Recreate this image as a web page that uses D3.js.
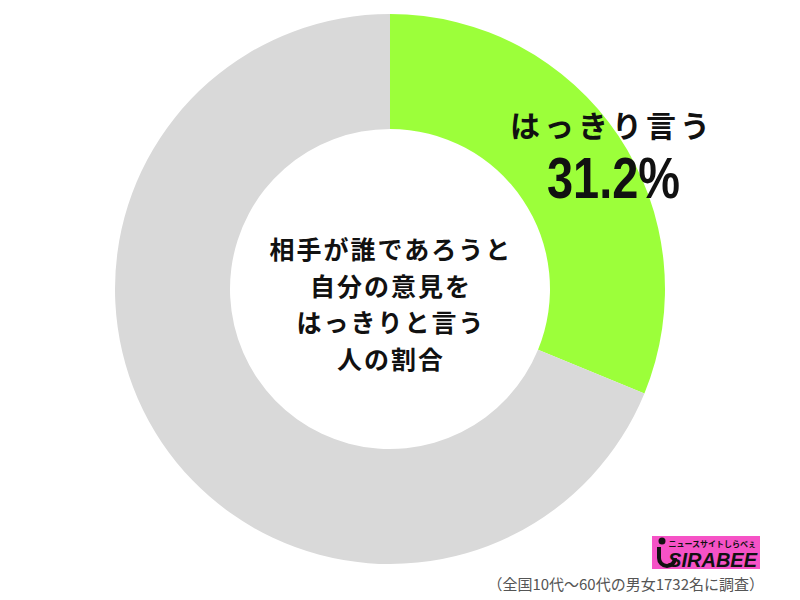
<!DOCTYPE html>
<html>
<head>
<meta charset="utf-8">
<script src="https://cdn.jsdelivr.net/npm/d3@7"></script>
<style>
  html, body { margin: 0; padding: 0; background: #fff; }
  svg { display: block; }
</style>
</head>
<body>
<svg id="chart" width="800" height="600"></svg>
<script>
const categories = ["はっきり言う", "その他"];
const values = [31.2, 68.8];
const colors = ["#9cff3a", "#d9d9d9"];
const centerLines = ["相手が誰であろうと", "自分の意見を", "はっきりと言う", "人の割合"];
const footnote = "（全国10代～60代の男女1732名に調査）";

const svg = d3.select("#chart");
const cx = 390, cy = 289, R = 275, r = 160;

const pie = d3.pie().sort(null).value(d => d)(values);
const arc = d3.arc().innerRadius(r).outerRadius(R);

const g = svg.append("g").attr("transform", `translate(${cx},${cy})`);
g.selectAll("path").data(pie).join("path")
  .attr("d", arc)
  .attr("fill", (d, i) => colors[i]);

const jp = "'Noto Sans CJK JP', 'Noto Sans', sans-serif";

// center text
const lineGap = 36.5;
svg.append("g").selectAll("text").data(centerLines).join("text")
  .attr("x", cx + 1)
  .attr("y", (d, i) => 259 + i * lineGap)
  .attr("text-anchor", "middle")
  .attr("font-family", jp)
  .attr("font-weight", 700)
  .attr("font-size", 25)
  .attr("letter-spacing", 2)
  .attr("fill", "#111")
  .text(d => d);

// slice label
svg.append("text")
  .attr("x", 612).attr("y", 137)
  .attr("text-anchor", "middle")
  .attr("font-family", jp)
  .attr("font-weight", 700)
  .attr("font-size", 30)
  .attr("letter-spacing", 4)
  .attr("fill", "#111")
  .text(categories[0]);

svg.append("text")
  .attr("x", 547).attr("y", 198)
  .attr("font-family", "'Liberation Sans Narrow', 'Arial Narrow', 'Liberation Sans', sans-serif")
  .attr("font-weight", 700)
  .attr("font-size", 57)
  .attr("textLength", 133)
  .attr("lengthAdjust", "spacingAndGlyphs")
  .attr("fill", "#111")
  .text(d3.format(".1f")(values[0]) + "%");

// logo
const logo = svg.append("g").attr("transform", "translate(652,536)");
logo.append("rect").attr("width", 108).attr("height", 33).attr("fill", "#f652c6");
logo.append("text").attr("x", 104).attr("y", 11)
  .attr("text-anchor", "end")
  .attr("font-family", jp).attr("font-weight", 700).attr("font-size", 8)
  .attr("fill", "#111").text("ニュースサイトしらべぇ");
logo.append("text").attr("x", 105).attr("y", 31)
  .attr("text-anchor", "end")
  .attr("font-family", "'Liberation Sans', sans-serif").attr("font-weight", 700)
  .attr("font-style", "italic").attr("font-size", 20)
  .attr("fill", "#111").text("SIRABEE");
logo.append("circle").attr("cx", 10).attr("cy", 5).attr("r", 3.5).attr("fill", "#111");
logo.append("path")
  .attr("d", "M9,11 L9,22 A6,6 0 1 0 21,22 L25,22 A10,10 0 1 1 5,22 L5,11 Z")
  .attr("fill", "#111");

// footnote
svg.append("text")
  .attr("x", 764).attr("y", 590)
  .attr("text-anchor", "end")
  .attr("font-family", jp)
  .attr("font-size", 15)
  .attr("fill", "#555")
  .text(footnote);
</script>
</body>
</html>
